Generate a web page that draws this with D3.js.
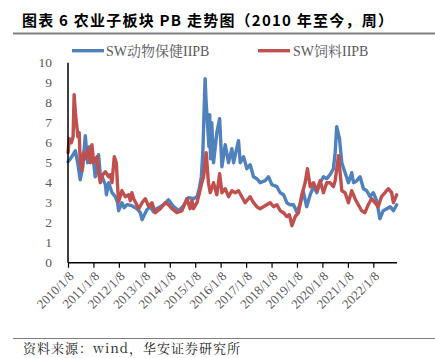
<!DOCTYPE html>
<html><head><meta charset="utf-8">
<script src="https://cdn.jsdelivr.net/npm/d3@7"></script>
<style>
body{margin:0;background:#fff;}
svg{display:block;}
</style></head>
<body>
<svg id="c" width="435" height="358"></svg>
<script>
// ---- data (decimal year, value) ----
const titleText = "图表 6 农业子板块 PB 走势图（2010 年至今，周）";
const sourceText = "资料来源：wind，华安证券研究所";
const seriesNames = ["SW动物保健IIPB", "SW饲料IIPB"];
const yTicks = [0,1,2,3,4,5,6,7,8,9,10];
const xTickLabels = ["2010/1/8","2011/1/8","2012/1/8","2013/1/8","2014/1/8","2015/1/8","2016/1/8","2017/1/8","2018/1/8","2019/1/8","2020/1/8","2021/1/8","2022/1/8"];

const blueT = [2010.02,2010.11,2010.22,2010.31,2010.40,2010.50,2010.60,2010.70,2010.79,2010.87,2010.96,2011.03,2011.09,2011.22,2011.29,2011.39,2011.49,2011.53,2011.62,2011.75,2011.88,2011.97,2012.01,2012.14,2012.23,2012.34,2012.53,2012.73,2012.86,2012.93,2013.02,2013.12,2013.25,2013.38,2013.51,2013.65,2013.78,2013.97,2014.17,2014.37,2014.56,2014.76,2014.95,2015.09,2015.18,2015.26,2015.32,2015.39,2015.41,2015.45,2015.50,2015.56,2015.59,2015.62,2015.67,2015.74,2015.87,2015.98,2016.07,2016.20,2016.33,2016.46,2016.53,2016.63,2016.72,2016.79,2016.92,2017.05,2017.18,2017.31,2017.44,2017.57,2017.77,2017.90,2018.03,2018.23,2018.36,2018.49,2018.62,2018.75,2018.88,2019.01,2019.14,2019.27,2019.40,2019.54,2019.67,2019.80,2019.93,2020.06,2020.19,2020.32,2020.45,2020.52,2020.58,2020.69,2020.78,2020.91,2021.04,2021.17,2021.24,2021.37,2021.50,2021.63,2021.76,2021.89,2022.02,2022.15,2022.28,2022.41,2022.55,2022.68,2022.81,2022.94];
const blueV = [5.05,5.2,5.4,5.6,5.0,4.15,4.8,6.35,5.0,5.8,5.1,5.0,4.3,5.4,4.4,4.2,3.9,3.4,4.0,3.5,3.3,3.0,2.6,3.0,2.75,2.9,2.85,2.7,2.5,2.15,2.4,2.65,2.8,2.55,2.7,2.8,2.9,3.15,2.8,2.6,2.85,3.25,3.2,3.3,3.7,4.3,5.5,8.5,9.2,8.0,7.0,5.8,7.4,5.2,7.0,5.0,6.5,7.2,4.8,5.9,5.0,5.7,5.0,5.6,6.1,5.0,5.3,4.7,4.9,4.3,4.2,4.0,4.1,4.3,3.9,3.8,3.5,3.4,3.0,2.9,2.9,2.55,2.9,3.55,2.8,3.4,3.8,3.5,4.0,4.3,4.2,4.4,4.7,5.5,6.8,6.2,5.0,4.5,4.0,4.5,4.0,4.1,4.3,3.7,3.6,3.3,3.5,3.1,2.2,2.6,2.7,2.8,2.6,2.9];

const redT = [2010.02,2010.07,2010.15,2010.22,2010.26,2010.31,2010.35,2010.41,2010.46,2010.50,2010.57,2010.63,2010.70,2010.83,2010.90,2010.96,2011.03,2011.16,2011.22,2011.29,2011.39,2011.49,2011.62,2011.68,2011.75,2011.84,2011.92,2011.97,2012.01,2012.14,2012.27,2012.40,2012.47,2012.53,2012.60,2012.80,2012.93,2013.06,2013.19,2013.32,2013.45,2013.65,2013.84,2013.97,2014.10,2014.30,2014.50,2014.69,2014.82,2014.89,2014.95,2015.09,2015.19,2015.28,2015.35,2015.45,2015.54,2015.61,2015.74,2015.87,2015.98,2016.07,2016.20,2016.33,2016.46,2016.59,2016.72,2016.85,2016.98,2017.18,2017.31,2017.44,2017.57,2017.70,2017.83,2017.96,2018.10,2018.23,2018.36,2018.49,2018.62,2018.72,2018.82,2018.95,2019.08,2019.21,2019.34,2019.43,2019.54,2019.67,2019.80,2019.93,2020.06,2020.19,2020.32,2020.45,2020.52,2020.65,2020.78,2020.91,2021.04,2021.17,2021.30,2021.43,2021.56,2021.69,2021.82,2021.95,2022.08,2022.21,2022.34,2022.48,2022.61,2022.74,2022.81,2022.94];
const redV = [5.5,6.2,6.0,6.3,8.4,7.5,7.0,6.3,6.5,5.0,4.6,5.5,5.2,5.7,5.0,5.9,5.0,5.3,4.5,4.0,4.4,4.55,4.3,4.4,4.0,5.3,5.0,3.8,3.05,3.6,3.3,3.4,3.1,3.5,3.2,2.7,3.0,3.2,2.8,3.0,2.5,2.7,3.0,2.9,2.7,2.5,2.6,3.2,2.7,3.1,2.7,3.0,3.5,4.0,4.3,5.5,4.0,3.5,4.0,3.4,4.45,3.5,3.7,3.3,3.6,3.5,3.6,3.3,3.0,3.3,3.0,2.8,2.7,2.8,2.9,3.0,2.8,2.9,2.6,2.5,2.3,2.4,1.85,2.3,2.5,3.4,4.0,4.7,3.8,4.0,3.6,4.1,3.5,4.0,4.0,3.8,4.1,5.35,3.6,3.5,3.0,3.6,3.2,2.9,2.6,2.5,2.9,3.2,3.0,2.8,3.3,3.5,3.7,3.5,3.0,3.4];

const colors = ["#4f81bd", "#c0504d"];

// ---- helpers ----
function yearToDate(y){
  const yr = Math.floor(y);
  const start = new Date(yr,0,1), end = new Date(yr+1,0,1);
  return new Date(start.getTime() + (y-yr)*(end-start));
}
const parseTick = d3.timeParse("%Y/%m/%d");

const svg = d3.select("#c");
const x = d3.scaleTime()
  .domain([new Date(2010,0,8), new Date(2022,11,14)])
  .range([68, 397]);
const y = d3.scaleLinear().domain([0,10]).range([262.7, 62.7]);

// title
svg.append("text").attr("x",22).attr("y",26)
  .attr("font-family","'Noto Sans CJK SC', 'Liberation Sans', sans-serif")
  .attr("font-weight","bold").attr("font-size",15).attr("fill","#000")
  .attr("textLength",371).attr("lengthAdjust","spacing")
  .text(titleText);
svg.append("line").attr("x1",13).attr("x2",435).attr("y1",33.5).attr("y2",33.5)
  .attr("stroke","#7f7f7f").attr("stroke-width",2);

// bottom
svg.append("line").attr("x1",13).attr("x2",435).attr("y1",338.5).attr("y2",338.5)
  .attr("stroke","#7f7f7f").attr("stroke-width",1);
svg.append("text").attr("x",23).attr("y",353)
  .attr("font-family","'Noto Serif CJK SC','Noto Sans CJK SC', serif")
  .attr("font-size",13).attr("fill","#222")
  .attr("textLength",217).attr("lengthAdjust","spacing")
  .text(sourceText);

// y axis labels
svg.append("g").selectAll("text").data(yTicks).join("text")
  .attr("x",52).attr("y",d=>y(d)).attr("dy","0.35em")
  .attr("text-anchor","end")
  .attr("font-family","'Liberation Serif', serif").attr("font-size",13.5)
  .attr("fill","#595959").text(d=>d);

// lines
const line = d3.line().x(d=>x(d[0])).y(d=>y(d[1]));
const blue = blueT.map((t,i)=>[yearToDate(t), blueV[i]]);
const red = redT.map((t,i)=>[yearToDate(t), redV[i]]);
[blue, red].forEach((s,i)=>{
  svg.append("path").datum(s).attr("d",line)
    .attr("fill","none").attr("stroke",colors[i]).attr("stroke-width",3.4)
    .attr("stroke-linejoin","round").attr("stroke-linecap","round");
});

// axes
const xAxis = d3.axisBottom(x)
  .tickValues(xTickLabels.map(parseTick))
  .tickSize(5).tickSizeOuter(0)
  .tickFormat(d3.timeFormat("%Y/%-m/%-d"));
const gx = svg.append("g").attr("transform",`translate(0,${y(0)})`).call(xAxis);
gx.select(".domain").attr("stroke","#000").attr("stroke-width",1.5).attr("d",`M68,0H397`);
gx.selectAll(".tick line").attr("stroke","#000").attr("stroke-width",1.2);
gx.selectAll(".tick text")
  .attr("font-family","'Liberation Serif', serif").attr("font-size",13)
  .attr("fill","#595959")
  .attr("text-anchor","end")
  .attr("transform","translate(3,11) rotate(-45)")
  .attr("dy","0.35em").attr("y",0).attr("x",0);

svg.append("line").attr("x1",68).attr("x2",68).attr("y1",62.7).attr("y2",262.7)
  .attr("stroke","#000").attr("stroke-width",1.5);

// legend
const leg = [{x:72, tx:106},{x:258, tx:293}];
leg.forEach((l,i)=>{
  svg.append("line").attr("x1",l.x).attr("x2",l.x+32).attr("y1",50.7).attr("y2",50.7)
    .attr("stroke",colors[i]).attr("stroke-width",3.4);
  svg.append("text").attr("x",l.tx).attr("y",50.7).attr("dy","0.35em")
    .attr("font-family","'Liberation Serif','Noto Serif CJK SC', serif").attr("font-size",14)
    .attr("fill","#595959").text(seriesNames[i]);
});
</script>
</body></html>
